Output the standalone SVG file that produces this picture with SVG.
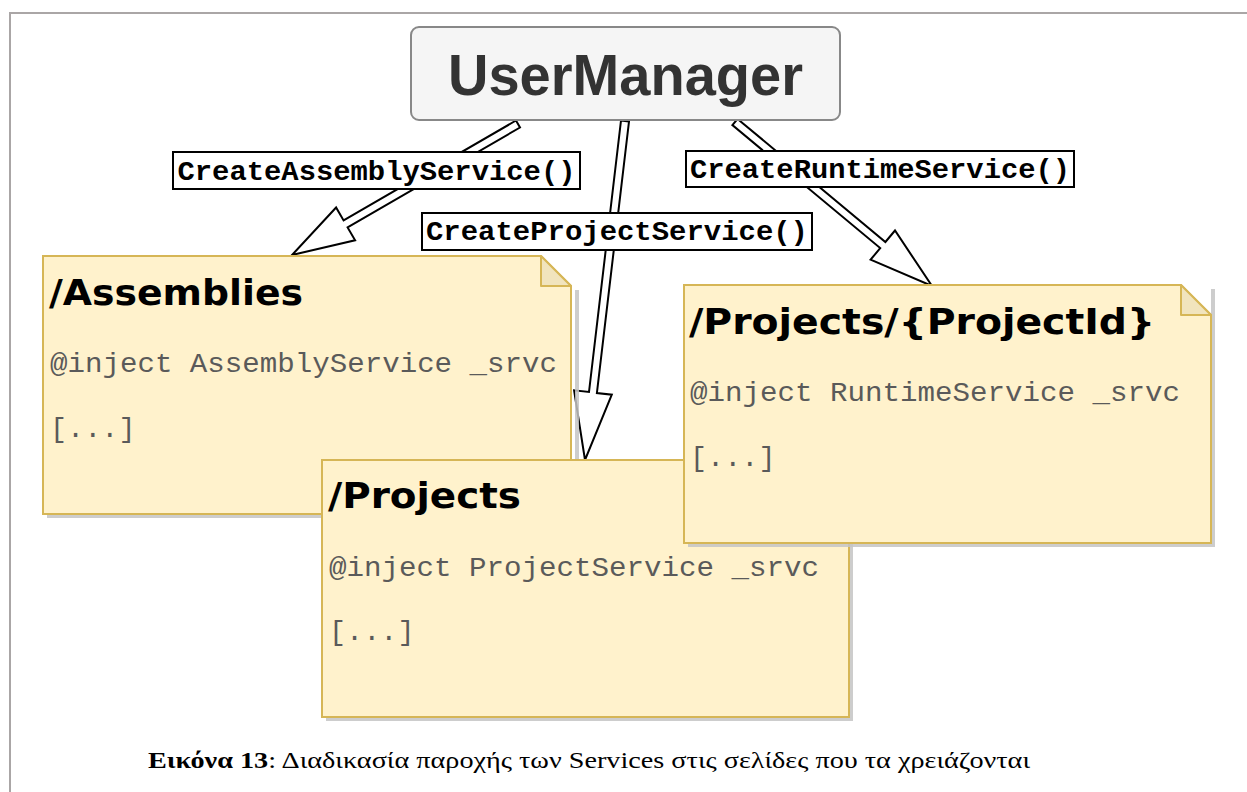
<svg xmlns="http://www.w3.org/2000/svg" width="1247" height="792" viewBox="0 0 1247 792">
<style>
.frame{stroke:#aaa6a6;stroke-width:2;fill:none}
.note{fill:#fff2cc;stroke:#d6b656;stroke-width:2}
.fold{fill:#f1e4bd;stroke:#d6b656;stroke-width:2;stroke-linejoin:round}
.shadow{fill:#c4c4c4;opacity:0.85}
.title{font-family:"DejaVu Sans",Verdana,sans-serif;font-weight:bold;font-size:35px;fill:#000}
.code{font-family:"Liberation Mono","Courier New",monospace;font-size:28.5px;fill:#5a5a5a}
.conn{fill:#fff;stroke:#000;stroke-width:2;stroke-linejoin:miter}
.lbox{fill:#fff;stroke:#000;stroke-width:2}
.ltext{font-family:"Liberation Mono","Courier New",monospace;font-weight:bold;font-size:28px;fill:#000}
.um{fill:#f5f5f5;stroke:#888;stroke-width:2}
.umtext{font-family:"Liberation Sans",Arial,sans-serif;font-weight:bold;font-size:58px;fill:#333}
.cap{font-family:"Liberation Serif","Times New Roman",serif;font-size:23px;fill:#000}
</style>
<rect width="1247" height="792" fill="#fff"/>
<path class="frame" d="M10,792 V13 H1247"/>

<g id="connectors">
<polygon class="conn" points="520,127.5 347.6,227.4 355.1,240.3 292,255 336.1,207.5 343.6,220.4 516,120.5"/>
<polygon class="conn" points="629,121.5 596.9,393 611.8,394.7 585,460 574.1,390.3 589,392 621,120.5"/>
<polygon class="conn" points="737.6,118.9 885.4,242 895,230.5 932,286 870.6,259.7 880.2,248.1 732.4,125.1"/>
</g>

<g id="usermanager">
<rect class="um" x="411" y="27" width="429" height="93" rx="8"/>
<text class="umtext" x="625.5" y="95" text-anchor="middle" textLength="355" lengthAdjust="spacingAndGlyphs">UserManager</text>
</g>

<g id="label-assembly">
<rect class="lbox" x="173" y="152" width="407" height="37"/>
<text class="ltext" x="376.5" y="180" text-anchor="middle" textLength="398" lengthAdjust="spacingAndGlyphs">CreateAssemblyService()</text>
</g>
<g id="label-project">
<rect class="lbox" x="422" y="213" width="390" height="37"/>
<text class="ltext" x="617" y="240" text-anchor="middle" textLength="382" lengthAdjust="spacingAndGlyphs">CreateProjectService()</text>
</g>
<g id="label-runtime">
<rect class="lbox" x="686" y="151" width="388" height="36"/>
<text class="ltext" x="880" y="178" text-anchor="middle" textLength="380" lengthAdjust="spacingAndGlyphs">CreateRuntimeService()</text>
</g>

<g id="note-assemblies">
<path class="shadow" d="M575,290 H579 V518 H47 V514 H575 Z"/>
<path class="note" d="M43,256 H541 L571,286 V514 H43 Z"/>
<path class="fold" d="M541,256 V286 H571 Z"/>
<text class="title" x="49" y="305" textLength="254" lengthAdjust="spacingAndGlyphs">/Assemblies</text>
<text class="code" x="50" y="372" textLength="507" lengthAdjust="spacingAndGlyphs">@inject AssemblyService _srvc</text>
<text class="code" x="50" y="437">[...]</text>
</g>

<g id="note-projects">
<path class="shadow" d="M849,464 H853 V721 H326 V717 H849 Z"/>
<path class="note" d="M322,460 H819 L849,490 V717 H322 Z"/>
<path class="fold" d="M819,460 V490 H849 Z"/>
<text class="title" x="328" y="508" textLength="193" lengthAdjust="spacingAndGlyphs">/Projects</text>
<text class="code" x="329" y="576" textLength="490" lengthAdjust="spacingAndGlyphs">@inject ProjectService _srvc</text>
<text class="code" x="329" y="640">[...]</text>
</g>

<g id="note-runtime">
<path class="shadow" d="M1211,289 H1215 V547 H688 V543 H1211 Z"/>
<path class="note" d="M684,285 H1181 L1211,315 V543 H684 Z"/>
<path class="fold" d="M1181,285 V315 H1211 Z"/>
<text class="title" x="689" y="334" textLength="466" lengthAdjust="spacingAndGlyphs">/Projects/{ProjectId}</text>
<text class="code" x="690" y="401" textLength="490" lengthAdjust="spacingAndGlyphs">@inject RuntimeService _srvc</text>
<text class="code" x="690" y="466">[...]</text>
</g>

<g id="caption">
<text class="cap" x="148" y="768" textLength="882" lengthAdjust="spacingAndGlyphs"><tspan font-weight="bold">Εικόνα 13</tspan>: Διαδικασία παροχής των Services στις σελίδες που τα χρειάζονται</text>
</g>
</svg>
